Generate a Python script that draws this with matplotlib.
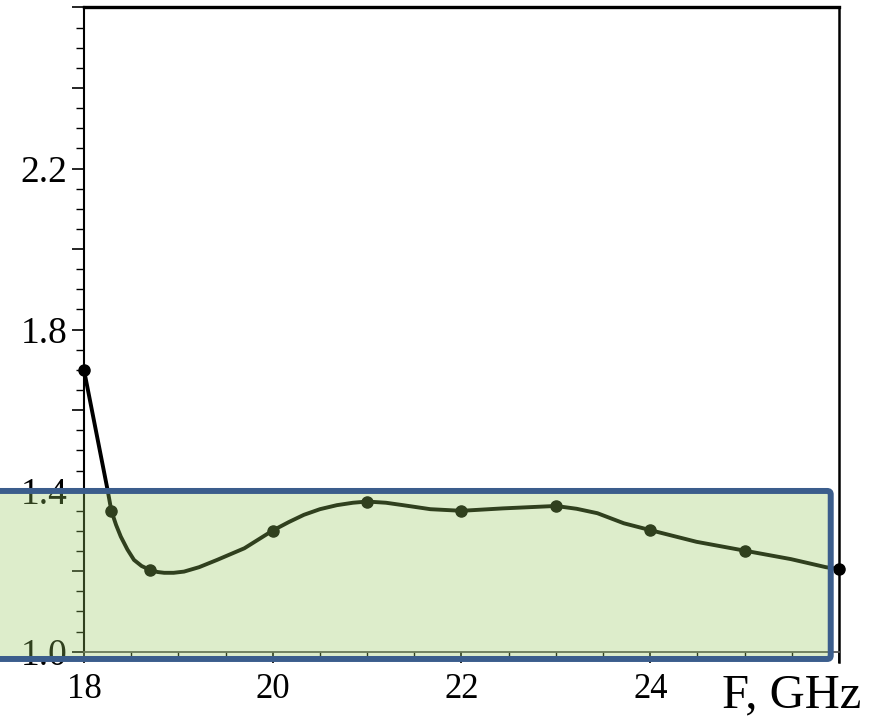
import numpy as np
import matplotlib.pyplot as plt
from matplotlib.patches import FancyBboxPatch
from matplotlib.ticker import MultipleLocator, FuncFormatter

# measured points (frequency, GHz / ratio)
f_pts = [18.0, 18.29, 18.70, 20.0, 21.0, 22.0, 23.0, 24.0, 25.0, 26.0]
v_pts = [1.70, 1.350, 1.203, 1.301, 1.373, 1.350, 1.362, 1.302, 1.251, 1.205]

# smoothed trace between the points
f_curve = [18.0, 18.25, 18.29, 18.34, 18.39, 18.46, 18.53, 18.61, 18.70, 18.78,
           18.85, 18.95, 19.06, 19.22, 19.41, 19.70, 20.0, 20.17, 20.33, 20.50,
           20.68, 20.85, 21.0, 21.20, 21.38, 21.67, 22.0, 22.44, 23.0, 23.22,
           23.44, 23.72, 24.0, 24.49, 25.0, 25.49, 25.86, 26.0]
v_curve = [1.70, 1.402, 1.350, 1.315, 1.286, 1.254, 1.228, 1.213, 1.203, 1.198,
           1.196, 1.196, 1.199, 1.210, 1.228, 1.257, 1.301, 1.322, 1.340, 1.354,
           1.364, 1.370, 1.373, 1.370, 1.364, 1.354, 1.350, 1.356, 1.362, 1.355,
           1.344, 1.319, 1.302, 1.273, 1.251, 1.230, 1.210, 1.205]

y_labels = [1.0, 1.4, 1.8, 2.2]

plt.rcParams['font.family'] = ['Liberation Serif', 'DejaVu Serif']

fig = plt.figure(figsize=(8.83, 7.18), dpi=100)
ax = fig.add_axes([0.0951, 0.0923, 0.8551, 0.8984])

ax.plot(f_curve, v_curve, color='black', lw=2.8, solid_joinstyle='round',
        solid_capstyle='round', clip_on=False)
ax.plot(f_pts, v_pts, 'o', color='black', ms=8, clip_on=False)

ax.set_xlim(18, 26)
ax.set_ylim(1.0, 2.602)

ax.xaxis.set_major_locator(MultipleLocator(2))
ax.xaxis.set_minor_locator(MultipleLocator(0.5))
ax.yaxis.set_major_locator(MultipleLocator(0.2))
ax.yaxis.set_minor_locator(MultipleLocator(0.05))

ax.xaxis.set_major_formatter(FuncFormatter(lambda v, p: '' if v > 25 else f'{v:.0f}'))
ax.yaxis.set_major_formatter(FuncFormatter(
    lambda v, p: f'{v:.1f}' if any(abs(v - t) < 1e-6 for t in y_labels) else ''))

ax.tick_params(axis='x', which='major', direction='out', length=8, width=1.2,
               labelsize=25, pad=7)
ax.tick_params(axis='x', which='minor', direction='out', length=3.6, width=1.0)
ax.tick_params(axis='y', which='major', direction='out', length=8.5, width=1.2,
               labelsize=27, pad=3.5)
ax.tick_params(axis='y', which='minor', direction='out', length=5.5, width=1.0)

ax.spines['top'].set_linewidth(2.4)
ax.spines['right'].set_linewidth(1.8)
ax.spines['left'].set_linewidth(1.5)
ax.spines['bottom'].set_linewidth(1.3)
ax.spines['bottom'].set_color('#555555')
ax.spines['right'].set_bounds(0.975, 2.602)

fig.text(722 / 883, (718 - 707) / 718, 'F, GHz', fontsize=35,
         ha='left', va='baseline')

# highlighted band, laid over the plot
band = FancyBboxPatch((-0.01, 0.0822), 0.9508, 0.3162 - 0.0822,
                      boxstyle='round,pad=0,rounding_size=0.004',
                      mutation_aspect=883 / 718,
                      transform=fig.transFigure,
                      facecolor=(150 / 255, 200 / 255, 95 / 255, 0.32),
                      edgecolor='#3b5d8c', linewidth=4.3, zorder=5)
fig.patches.append(band)

fig.savefig('out.png', dpi=100)
